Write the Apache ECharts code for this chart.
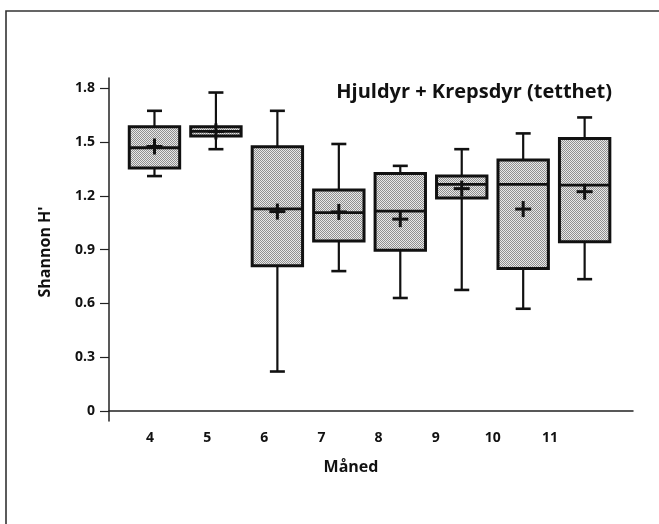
<!DOCTYPE html>
<html>
<head>
<meta charset="utf-8">
<script src="https://cdn.jsdelivr.net/npm/echarts@6/dist/echarts.min.js"></script>
<style>
  html, body { margin: 0; padding: 0; background: #fff; }
  #chart { width: 659px; height: 524px; }
</style>
</head>
<body>
<div id="chart"></div>
<script>
// Shannon diversity per month (Hjuldyr + Krepsdyr, density based)
const months      = [4, 5, 6, 7, 8, 9, 10, 11];
const monthLabels = ['4', '5', '6', '7', '8', '9', '10', '11'];
const whiskerLow  = [1.31, 1.46, 0.22, 0.78, 0.63, 0.675, 0.57, 0.735];
const quartile1   = [1.355, 1.533, 0.81, 0.948, 0.897, 1.188, 0.795, 0.944];
const medians     = [1.468, 1.559, 1.127, 1.106, 1.115, 1.264, 1.264, 1.26];
const quartile3   = [1.585, 1.585, 1.474, 1.232, 1.325, 1.31, 1.40, 1.52];
const whiskerHigh = [1.674, 1.776, 1.674, 1.489, 1.367, 1.46, 1.548, 1.637];
const means       = [1.475, 1.559, 1.112, 1.11, 1.07, 1.24, 1.126, 1.223];
const yTicks      = [0, 0.3, 0.6, 0.9, 1.2, 1.5, 1.8];

const FONT = '"Open Sans", "Noto Sans", sans-serif';

// stippled grey fill for the boxes
const dotCanvas = document.createElement('canvas');
dotCanvas.width = 2; dotCanvas.height = 2;
const dctx = dotCanvas.getContext('2d');
dctx.fillStyle = '#e8e8e8'; dctx.fillRect(0, 0, 2, 2);
dctx.fillStyle = '#8f8f8f'; dctx.fillRect(0, 0, 1, 1); dctx.fillRect(1, 1, 1, 1);
const boxFill = { image: dotCanvas, repeat: 'repeat' };

const boxData = months.map((m, i) => [m, whiskerLow[i], quartile1[i], medians[i], quartile3[i], whiskerHigh[i], means[i]]);

function renderBox(params, api) {
  const x = api.value(0);
  const lo = api.coord([x, api.value(1)]);
  const q1 = api.coord([x, api.value(2)]);
  const md = api.coord([x, api.value(3)]);
  const q3 = api.coord([x, api.value(4)]);
  const hi = api.coord([x, api.value(5)]);
  const mn = api.coord([x, api.value(6)]);
  const unit = api.size([1, 0])[0];
  const half = unit * 0.41;
  const cap = 7.5;
  const cross = 8;
  const cx = lo[0];
  const line = (x1, y1, x2, y2, w) => ({
    type: 'line',
    shape: { x1, y1, x2, y2 },
    style: { stroke: '#111', lineWidth: w }
  });
  return {
    type: 'group',
    children: [
      line(cx, q3[1], cx, hi[1], 2.2),
      line(cx, q1[1], cx, lo[1], 2.2),
      line(cx - cap, hi[1], cx + cap, hi[1], 2.6),
      line(cx - cap, lo[1], cx + cap, lo[1], 2.6),
      {
        type: 'rect',
        shape: { x: cx - half, y: q3[1], width: half * 2, height: q1[1] - q3[1] },
        style: { fill: boxFill, stroke: '#111', lineWidth: 3 }
      },
      line(cx - half, md[1], cx + half, md[1], 2.8),
      line(cx - cross, mn[1], cx + cross, mn[1], 3),
      line(cx, mn[1] - cross, cx, mn[1] + cross, 3)
    ]
  };
}

const chart = echarts.init(document.getElementById('chart'), null, { renderer: 'canvas' });
chart.setOption({
  animation: false,
  backgroundColor: '#fff',
  grid: { left: 109, top: 78, width: 524, height: 343, containLabel: false },
  xAxis: [
    {
      type: 'value', min: 3.26, max: 11.787,
      axisLine: { show: true, lineStyle: { color: '#222', width: 1.5 } },
      axisTick: { show: false },
      axisLabel: { show: false },
      splitLine: { show: false }
    },
    {
      type: 'value', min: 3.2825, max: 12.453, position: 'bottom',
      axisLine: { show: false },
      axisTick: { show: false },
      splitLine: { show: false },
      axisLabel: {
        customValues: months,
        formatter: v => monthLabels[months.indexOf(v)],
        margin: 10,
        color: '#111', fontFamily: FONT, fontWeight: 'bold', fontSize: 14
      }
    }
  ],
  yAxis: {
    type: 'value', min: -0.056, max: 1.857,
    axisLine: { show: true, lineStyle: { color: '#222', width: 1.5 } },
    axisTick: { show: true, customValues: yTicks, length: 9, lineStyle: { color: '#222', width: 1.2 } },
    axisLabel: {
      customValues: yTicks,
      formatter: v => (v === 0 ? '0' : v.toFixed(1)),
      margin: 14,
      color: '#111', fontFamily: FONT, fontWeight: 'bold', fontSize: 14
    },
    splitLine: { show: false }
  },
  series: [{
    type: 'custom',
    xAxisIndex: 0,
    yAxisIndex: 0,
    data: boxData,
    encode: { x: 0, y: [1, 2, 3, 4, 5, 6] },
    renderItem: renderBox,
    clip: false
  }],
  graphic: [
    {
      type: 'rect', silent: true,
      shape: { x: 6, y: 11, width: 700, height: 600 },
      style: { fill: 'none', stroke: '#333', lineWidth: 1.6 }
    },
    {
      type: 'text', x: 612, y: 92,
      style: {
        text: 'Hjuldyr + Krepsdyr (tetthet)', align: 'right', verticalAlign: 'middle',
        fill: '#111', font: 'bold 20px ' + FONT
      }
    },
    {
      type: 'text', x: 351, y: 467,
      style: {
        text: 'Måned', align: 'center', verticalAlign: 'middle',
        fill: '#111', font: 'bold 16px ' + FONT
      }
    },
    {
      type: 'text', x: 45, y: 252, rotation: Math.PI / 2,
      style: {
        text: "Shannon H'", align: 'center', verticalAlign: 'middle',
        fill: '#111', font: 'bold 16px ' + FONT
      }
    }
  ]
});
</script>
</body>
</html>
